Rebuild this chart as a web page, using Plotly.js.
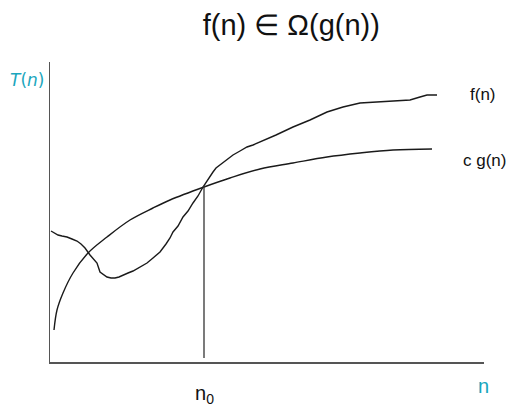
<!DOCTYPE html>
<html>
<head>
<meta charset="utf-8">
<script src="https://cdn.plot.ly/plotly-3.0.1.min.js"></script>
<style>html,body{margin:0;padding:0;background:#fff;}#chart{width:525px;height:416px;}</style>
</head>
<body>
<div id="chart"></div>
<script>
// f(n): wobbly measured curve
const fX = [1,5,8,12,17,22,27,31,35,40,44,47,50,54,57,61,65,69,73,78,83,90,97,103,110,116,120,123,128,133,138,143,148,153,158,163,166,170,176,183,190,197,203,210,226,243,260,277,293,310,327,343,360,370,377,387];
const fY = [131,129,127,126,125,123,121,118,114,107,103,99,90,87,85,84,84,85,87,89,91,95,99,104,110,118,124,130,136,145,151,159,166,175,183,190,194,197,201,207,211,215,217,220,227,235,242,250,255,259,260,261,262,265,267,267];
// c g(n): smooth lower bound curve
const gX = [4,7,13,23,38,57,80,103,120,154,180,210,243,277,310,343,382];
const gY = [32,52,69,89,109,125,142,154,162,175,184,193,199,205,209,212,213];
const n0 = 154;
const n0Top = 176;
const teal = '#1aa6bd';

const traces = [
  {x: fX, y: fY, type: 'scatter', mode: 'lines', line: {color: '#1a1a1a', width: 1.4}, hoverinfo: 'skip'},
  {x: gX, y: gY, type: 'scatter', mode: 'lines', line: {color: '#1a1a1a', width: 1.4, shape: 'spline', smoothing: 1}, hoverinfo: 'skip'}
];

const font = 'Liberation Sans, Arial, sans-serif';
const layout = {
  width: 525, height: 416,
  margin: {l: 50, r: 41, t: 62, b: 54},
  paper_bgcolor: '#fff', plot_bgcolor: '#fff',
  showlegend: false,
  title: {text: 'f(n) \u2208 \u03A9(g(n))', font: {family: font, size: 29, color: '#111'},
          x: 0.556, xref: 'paper', xanchor: 'center', y: 0.94, yref: 'container', yanchor: 'middle'},
  xaxis: {range: [0, 434], showline: true, linecolor: '#555', linewidth: 1.5, showgrid: false, zeroline: false,
          showticklabels: false, ticks: '', fixedrange: true},
  yaxis: {range: [0, 300], showline: true, linecolor: '#555', linewidth: 1.5, showgrid: false, zeroline: false,
          showticklabels: false, ticks: '', fixedrange: true},
  shapes: [
    {type: 'line', xref: 'x', yref: 'y', x0: n0, x1: n0, y0: 4, y1: n0Top, line: {color: '#333', width: 1.3}}
  ],
  annotations: [
    {text: '<i>T</i>(<i>n</i>)', xref: 'paper', yref: 'paper', x: -0.053, y: 0.94, xanchor: 'center', yanchor: 'middle',
     showarrow: false, font: {family: 'DejaVu Sans, sans-serif', size: 17, color: teal}},
    {text: 'f(n)', xref: 'paper', yref: 'y', x: 0.998, y: 268, xanchor: 'center', yanchor: 'middle',
     showarrow: false, font: {family: font, size: 17, color: '#111'}},
    {text: 'c g(n)', xref: 'paper', yref: 'y', x: 1.002, y: 202, xanchor: 'center', yanchor: 'middle',
     showarrow: false, font: {family: font, size: 17, color: '#111'}},
    {text: 'n<sub>0</sub>', xref: 'x', yref: 'paper', x: n0 + 0, y: -0.06, xanchor: 'center', yanchor: 'top',
     showarrow: false, font: {family: font, size: 20, color: '#111'}},
    {text: 'n', xref: 'paper', yref: 'paper', x: 0.999, y: -0.037, xanchor: 'center', yanchor: 'top',
     showarrow: false, font: {family: font, size: 20, color: teal}}
  ]
};

Plotly.newPlot('chart', traces, layout, {staticPlot: true, displayModeBar: false});
</script>
</body>
</html>
